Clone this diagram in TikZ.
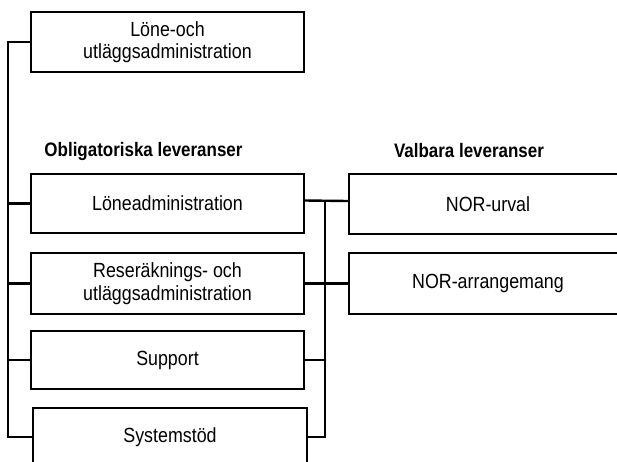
\documentclass[tikz,border=0pt]{standalone}
\usepackage{fontspec}
\setmainfont{Liberation Sans}[FakeStretch=0.87]
\usepackage{xcolor}
\definecolor{orgink}{HTML}{000000}
\usepackage{tikz}
\usetikzlibrary{positioning,calc}
\tikzset{
  orgbox/.style  ={rectangle, draw=orgink, fill=white, line width=2.4pt,
                   minimum width=273, minimum height=60, inner sep=0pt,
                   align=center, text=orgink,
                   font=\fontsize{20.5}{22.5}\selectfont},
  orgwide/.style ={orgbox, minimum width=278},
  orglink/.style ={draw=orgink, line width=2.4pt},
  orghead/.style ={font=\fontsize{19.5}{22}\selectfont\bfseries, text=orgink},
}

\begin{document}
\begin{tikzpicture}[x=1pt, y=-1pt]
  \useasboundingbox (0,0) rectangle (617,461);
  \clip (0,0) rectangle (617,461);
  \node[orgbox] (top) at (167.5,42) {L\"one-och\\utl\"aggsadministration};
  \node[orghead] (oblig) at (143.5,151) {Obligatoriska leveranser};
  \node[orghead] (valb) at (469,151) {Valbara leveranser};
  \node[orgbox, minimum height=59] (lone) at (167.5,203.5) {L\"oneadministration};
  \node[orgbox, minimum height=61] (rese) at (167.5,283.5)
       {Reser\"aknings- och\\utl\"aggsadministration};
  \node[orgbox, minimum height=58] (supp) at (167.5,360) {Support};
  \node[orgbox, minimum width=274, minimum height=58] (sys) at (170,437) {Systemst\"od};
  \node[orgwide] (urval) at (488,204) {NOR-urval};
  \node[orgwide, minimum height=61] (arr) at (488,283.5) {NOR-arrangemang};
  \coordinate (lbus) at (8,43);
  \coordinate (rbus) at (325,200);
  \draw[orglink] (top.west) -- (top.west -| lbus) |- (sys.west);
  \foreach \n in {lone,rese,supp}{
    \draw[orglink] (\n.west) -- (\n.west -| lbus);}
  \draw[orglink] ([yshift=3pt]lone.east) -- ([yshift=3pt]urval.west);
  \draw[orglink] (rese.east) -- (arr.west);
  \draw[orglink] (rbus) |- (sys.east);
  \draw[orglink] (supp.east) -- (supp.east -| rbus);
\end{tikzpicture}
\end{document}
